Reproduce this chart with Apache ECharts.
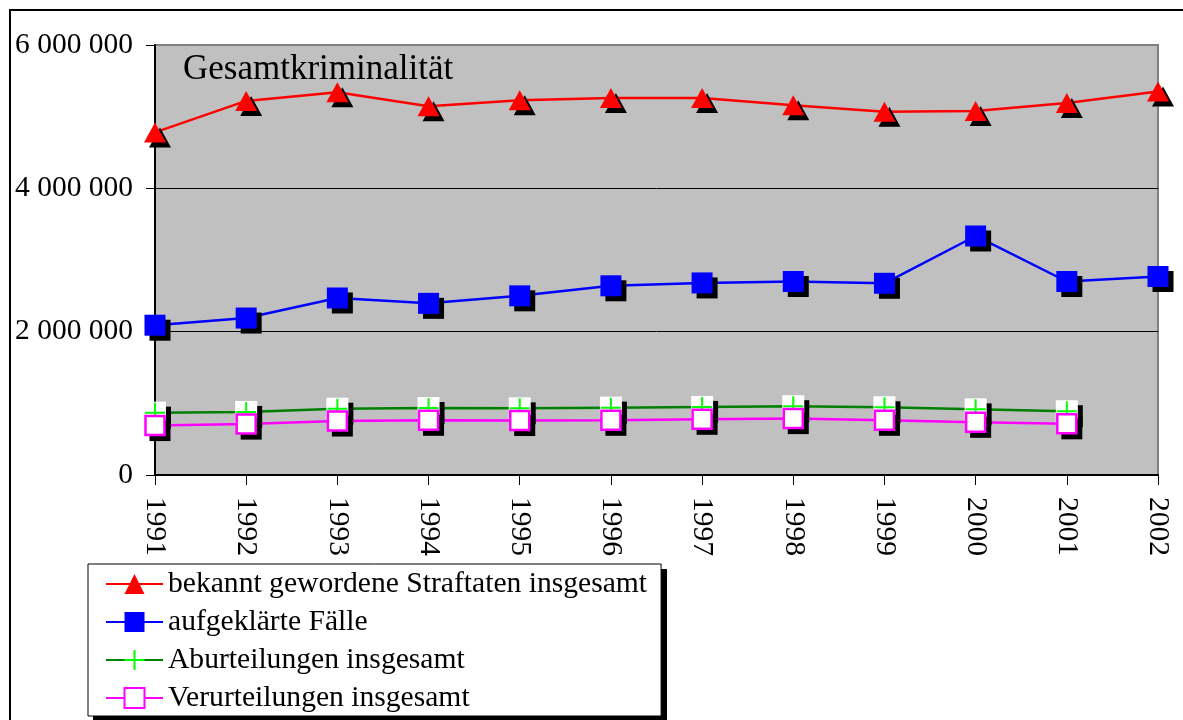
<!DOCTYPE html>
<html>
<head>
<meta charset="utf-8">
<script src="https://cdn.jsdelivr.net/npm/echarts@6/dist/echarts.min.js"></script>
<style>
  html, body { margin: 0; padding: 0; background: #fff; }
  #chart { width: 1183px; height: 720px; }
</style>
</head>
<body>
<div id="chart"></div>
<script>
// Jahre
var years = ['1991', '1992', '1993', '1994', '1995', '1996', '1997', '1998', '1999', '2000', '2001', '2002']

// Werte
var straftaten = [4780000, 5220000, 5340000, 5145000, 5230000, 5260000, 5260000, 5160000, 5070000, 5080000, 5190000, 5350000]
var aufgeklaert = [2090000, 2190000, 2470000, 2395000, 2500000, 2640000, 2680000, 2700000, 2675000, 3335000, 2700000, 2770000]
var aburteilungen = [870000, 880000, 925000, 935000, 930000, 940000, 950000, 960000, 945000, 916000, 890000, null]
var verurteilungen = [690000, 710000, 753000, 763000, 760000, 763000, 777000, 787000, 763000, 735000, 714000, null]

var yTicks = [0, 2000000, 4000000, 6000000]

var serif = 'Liberation Serif, Times New Roman, serif'
var shadow = { shadowColor: '#000', shadowBlur: 0, shadowOffsetX: 5, shadowOffsetY: 5 }

function fmt (v) {
  return String(v).replace(/\B(?=(\d{3})+(?!\d))/g, ' ')
}

var myChart = echarts.init(document.getElementById('chart'))
var option = {
  animation: false,
  backgroundColor: '#fff',
  title: {
    text: 'Gesamtkriminalität',
    left: 178,
    top: 47,
    textStyle: { fontFamily: serif, fontWeight: 'normal', fontSize: 35, color: '#000' }
  },
  graphic: [
    {
      // Rahmen um das ganze Diagramm
      type: 'rect',
      shape: { x: 10, y: 10, width: 1200, height: 730 },
      style: { fill: 'none', stroke: '#000', lineWidth: 2 },
      silent: true
    },
    {
      // Schatten der Legende
      type: 'rect',
      shape: { x: 93, y: 569, width: 574, height: 152 },
      style: { fill: '#000' },
      silent: true
    }
  ],
  grid: {
    left: 155,
    right: 25,
    top: 45,
    bottom: 245,
    show: true,
    backgroundColor: '#c0c0c0',
    borderColor: '#808080',
    borderWidth: 2
  },
  legend: {
    data: ['bekannt gewordene Straftaten insgesamt', 'aufgeklärte Fälle', 'Aburteilungen insgesamt', 'Verurteilungen insgesamt'],
    orient: 'vertical',
    left: 88,
    top: 564,
    padding: [5, 14, 3, 17],
    itemWidth: 57,
    itemHeight: 25,
    itemGap: 8,
    backgroundColor: '#fff',
    borderColor: '#000',
    borderWidth: 1,
    borderRadius: 0,
    itemStyle: { shadowColor: 'rgba(0,0,0,0)', shadowOffsetX: 0, shadowOffsetY: 0, shadowBlur: 0 },
    textStyle: { fontFamily: serif, fontSize: 29.6, color: '#000', lineHeight: 30 }
  },
  xAxis: {
    type: 'category',
    data: years,
    boundaryGap: false,
    axisLine: { lineStyle: { color: '#000', width: 2 } },
    axisTick: { show: true, length: 10, lineStyle: { color: '#000', width: 1 } },
    axisLabel: {
      interval: 0,
      rotate: -90,
      margin: 22,
      fontFamily: serif,
      fontSize: 29.5,
      color: '#000'
    },
    splitLine: { show: false }
  },
  yAxis: {
    type: 'value',
    min: yTicks[0],
    max: yTicks[yTicks.length - 1],
    interval: yTicks[1] - yTicks[0],
    axisLine: { show: true, lineStyle: { color: '#000', width: 2 } },
    axisTick: { show: true, length: 9, lineStyle: { color: '#000', width: 1 } },
    axisLabel: {
      margin: 22,
      fontFamily: serif,
      fontSize: 29.5,
      color: '#000',
      formatter: fmt
    },
    splitLine: {
      show: true,
      lineStyle: { color: ['#000', '#000', '#000', '#808080'], width: 1 }
    }
  },
  series: [
    {
      name: 'bekannt gewordene Straftaten insgesamt',
      type: 'line',
      data: straftaten,
      symbol: 'triangle',
      symbolSize: [22, 20],
      lineStyle: { color: '#ff0000', width: 2.5 },
      itemStyle: Object.assign({ color: '#ff0000' }, shadow)
    },
    {
      name: 'aufgeklärte Fälle',
      type: 'line',
      data: aufgeklaert,
      symbol: 'rect',
      symbolSize: 21,
      lineStyle: { color: '#0000ff', width: 2.5 },
      itemStyle: Object.assign({ color: '#0000ff' }, shadow)
    },
    {
      // weisser Hintergrund der Plus-Markierungen
      name: 'abBg',
      type: 'line',
      data: aburteilungen,
      symbol: 'rect',
      symbolSize: 22,
      lineStyle: { opacity: 0 },
      itemStyle: Object.assign({ color: '#fff' }, shadow)
    },
    {
      name: 'Aburteilungen insgesamt',
      type: 'line',
      data: aburteilungen,
      symbol: 'path://M9,0h2v20h-2zM0,9h20v2h-20z',
      symbolSize: 20,
      lineStyle: { color: '#008000', width: 2.5 },
      itemStyle: { color: '#00ff00' }
    },
    {
      // Schatten der Verurteilungs-Markierungen
      name: 'vuBg',
      type: 'line',
      data: verurteilungen,
      symbol: 'rect',
      symbolSize: 21,
      symbolOffset: [5, 5],
      lineStyle: { opacity: 0 },
      itemStyle: { color: '#000' }
    },
    {
      name: 'Verurteilungen insgesamt',
      type: 'line',
      data: verurteilungen,
      symbol: 'rect',
      symbolSize: 19,
      lineStyle: { color: '#ff00ff', width: 2.5 },
      itemStyle: { color: '#fff', borderColor: '#ff00ff', borderWidth: 2.5 }
    }
  ]
}
myChart.setOption(option)
</script>
</body>
</html>
